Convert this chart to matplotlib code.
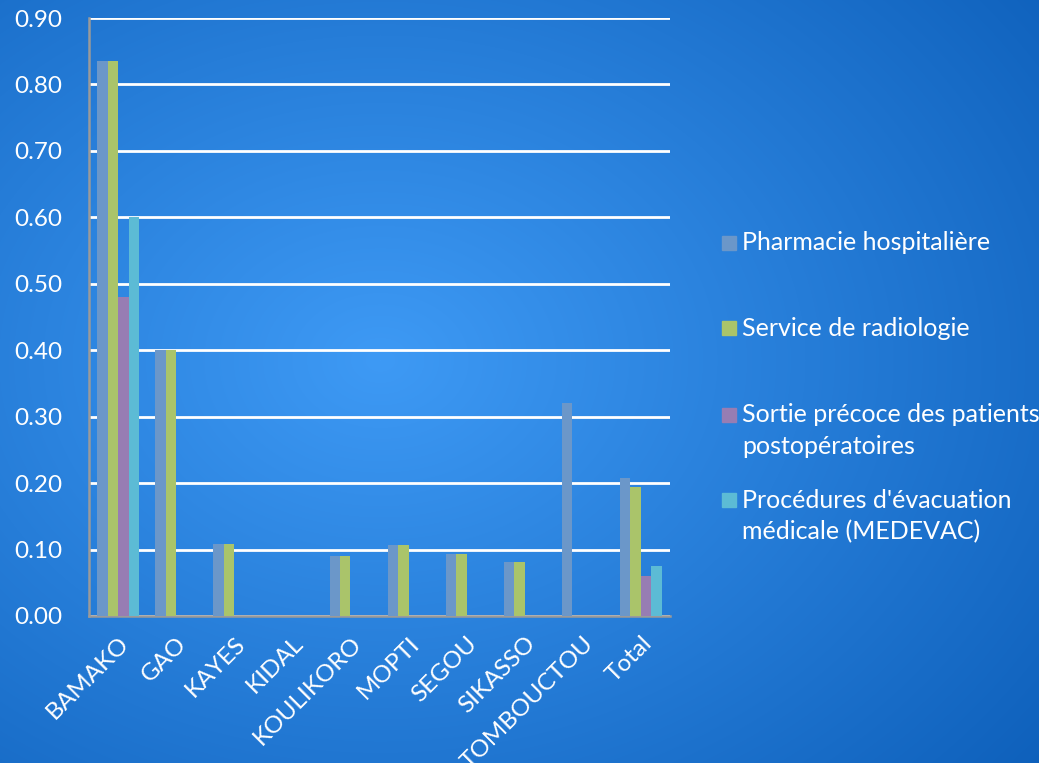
import numpy as np
import matplotlib.pyplot as plt
from matplotlib.patches import Rectangle

plt.rcParams['font.family'] = ['Lato', 'DejaVu Sans']

# Data
regions = ["BAMAKO", "GAO", "KAYES", "KIDAL", "KOULIKORO", "MOPTI",
           "SEGOU", "SIKASSO", "TOMBOUCTOU", "Total"]
pharmacie = [0.835, 0.40, 0.108, 0.0, 0.090, 0.107, 0.093, 0.081, 0.32, 0.208]
radiologie = [0.835, 0.40, 0.108, 0.0, 0.090, 0.107, 0.093, 0.081, 0.0, 0.194]
sortie = [0.48, 0.0, 0.0, 0.0, 0.0, 0.0, 0.0, 0.0, 0.0, 0.06]
medevac = [0.60, 0.0, 0.0, 0.0, 0.0, 0.0, 0.0, 0.0, 0.0, 0.075]

series = [
    ("Pharmacie hospitalière", pharmacie, "#6b97c9"),
    ("Service de radiologie", radiologie, "#aac46a"),
    ("Sortie précoce des patients\npostopératoires", sortie, "#977db3"),
    ("Procédures d'évacuation\nmédicale (MEDEVAC)", medevac, "#5cbbd5"),
]

W, H = 1039, 763
fig = plt.figure(figsize=(W / 100, H / 100), dpi=100)

# radial blue gradient background
bg = fig.add_axes([0, 0, 1, 1], zorder=-10)
yy, xx = np.mgrid[0:H, 0:W]
r = np.sqrt(((xx - 380) / 850.0) ** 2 + ((yy - 360) / 650.0) ** 2)
r = np.clip(r, 0, 1)
c0 = np.array([0x3e, 0x9a, 0xf5]) / 255.0
c1 = np.array([0x0e, 0x60, 0xbb]) / 255.0
img = c0[None, None, :] * (1 - r[..., None]) + c1[None, None, :] * r[..., None]
bg.imshow(img, aspect='auto', extent=[0, 1, 0, 1])
bg.axis('off')

ax = fig.add_axes([89 / W, 1 - 616 / H, (670 - 89) / W, (616 - 18) / H])
ax.patch.set_alpha(0)

x = np.arange(len(regions))
w = 0.18
for i, (label, vals, col) in enumerate(series):
    ax.bar(x + (i - 1.5) * w, vals, w, color=col, label=label, zorder=3)

ax.set_xlim(-0.5, len(regions) - 0.5)
ax.set_ylim(0, 0.9)
ticks = np.arange(0, 0.91, 0.1)
ax.set_yticks(ticks)
ax.set_yticklabels([f"{v:.2f}" for v in ticks])
ax.yaxis.grid(True, color="white", linewidth=2, zorder=0)
ax.set_axisbelow(True)

for s in ["top", "right"]:
    ax.spines[s].set_visible(False)
for s in ["left", "bottom"]:
    ax.spines[s].set_color("#9a9a9a")
    ax.spines[s].set_linewidth(1.8)

ax.tick_params(axis="both", length=0, colors="white", labelsize=17.5)
ax.tick_params(axis="y", pad=19)
ax.tick_params(axis="x", pad=12)
ax.set_xticks(x)
ax.set_xticklabels(regions, rotation=45, ha="right", rotation_mode="anchor")

# legend drawn by hand to match the uneven spacing
leg_y = [243, 328, 415, 500]
for (label, _, col), y0 in zip(series, leg_y):
    fig.patches.append(Rectangle((722 / W, 1 - (y0 + 7) / H), 14 / W, 14 / H,
                                 transform=fig.transFigure, color=col))
    for k, line in enumerate(label.split("\n")):
        fig.text(742 / W, 1 - (y0 + 32 * k) / H, line, color="white",
                 fontsize=18, va="center", ha="left")

fig.savefig("out.png", dpi=100)
